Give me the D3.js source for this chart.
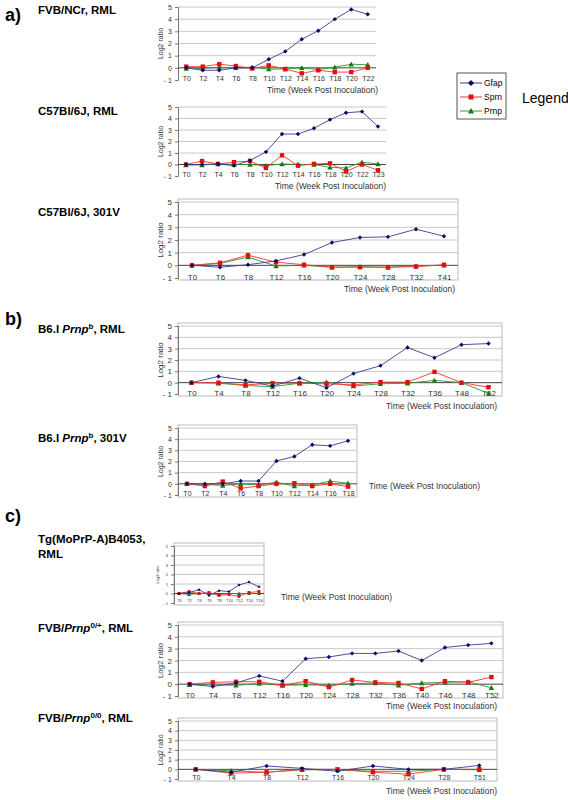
<!DOCTYPE html>
<html><head><meta charset="utf-8">
<script src="https://cdn.jsdelivr.net/npm/d3@7/dist/d3.min.js"></script>
<style>body{margin:0;background:#fff}</style></head>
<body><svg id="c" width="568" height="800"></svg>
<script>
const seriesNames=["Gfap","Sprn","Prnp"];
const ticks1=["T0","T2","T4","T6","T8","T10","T12","T14","T16","T18","T20","T22"];
const gfap1=[0,-0.2,-0.2,0,0,0.7,1.35,2.35,3.05,4.0,4.8,4.4];
const sprn1=[0.1,0.1,0.3,0.15,-0.05,0.2,-0.1,-0.45,-0.2,-0.35,-0.35,0];
const prnp1=[-0.05,-0.05,0.05,0,0.05,-0.1,-0.1,0,-0.15,0.05,0.3,0.25];
const ticks2=["T0","T2","T4","T6","T8","T10","T12","T14","T16","T18","T20","T22","T23"];
const gfap2=[0,0,0.05,-0.1,0.35,1.1,2.65,2.65,3.15,3.9,4.5,4.6,3.3];
const sprn2=[0,0.3,0.05,0.2,0.3,-0.3,0.8,-0.1,0.05,0.1,-0.6,0,-0.5];
const prnp2=[-0.05,-0.05,0.05,0,0,-0.1,0.05,0,0,-0.25,-0.3,0.2,0.05];
const ticks3=["T0","T6","T8","T12","T16","T20","T24","T28","T32","T41"];
const gfap3=[0,-0.15,0.05,0.35,0.85,1.8,2.2,2.25,2.85,2.3];
const sprn3=[0,0.2,0.8,0.25,0.05,-0.15,-0.15,-0.15,-0.1,0.05];
const prnp3=[0,0.15,0.65,-0.05,0,-0.15,-0.1,-0.15,-0.05,0];
const ticks4=["T0","T4","T8","T12","T16","T20","T24","T28","T32","T36","T48","T52"];
const gfap4=[0,0.55,0.2,-0.3,0.4,-0.45,0.8,1.5,3.1,2.2,3.35,3.45];
const sprn4=[0,0,-0.2,-0.05,-0.05,-0.1,-0.2,0.05,0.05,0.95,0,-0.4];
const prnp4=[0,-0.05,-0.25,-0.35,-0.05,0.05,-0.3,-0.1,-0.05,0.2,0,-0.95];
const ticks5=["T0","T2","T4","T6","T8","T10","T12","T14","T16","T18"];
const gfap5=[0,0,0,0.25,0.25,2.05,2.45,3.5,3.4,3.85];
const sprn5=[0,-0.2,0.2,-0.4,-0.2,0,0.05,-0.2,0,-0.25];
const prnp5=[0,-0.05,-0.15,0,-0.1,0.15,-0.2,-0.1,0.25,0.05];
const ticks6=["T0","T2","T4","T6","T8","T10","T12","T14","T16"];
const gfap6=[0,0.1,0.4,-0.2,0.3,0.2,0.9,1.2,0.7];
const sprn6=[0,0.2,0,0.1,-0.2,-0.1,-0.3,0.1,0.2];
const prnp6=[0,-0.1,0,0,-0.1,0,0,0,0];
const ticks7=["T0","T4","T8","T12","T16","T20","T24","T28","T32","T36","T40","T46","T48","T52"];
const gfap7=[0,-0.2,0.1,0.7,0.25,2.15,2.3,2.6,2.6,2.8,2.0,3.1,3.3,3.45];
const sprn7=[0,0.15,0.2,0.2,-0.1,0.25,-0.25,0.35,0.15,0.1,-0.4,0.25,0.15,0.6];
const prnp7=[-0.05,-0.05,-0.1,0.05,-0.1,-0.05,-0.1,0.05,0.1,-0.1,0.1,0.15,0.2,-0.3];
const ticks8=["T0","T4","T8","T12","T16","T20","T24","T28","T51"];
const gfap8=[0,-0.3,0.35,0.1,-0.2,0.35,0,0,0.4];
const sprn8=[0,-0.4,-0.3,0,0,-0.3,-0.5,0,0];
const prnp8=[0,-0.15,-0.3,-0.05,-0.05,-0.2,-0.2,0,-0.05];
const yTicks=[-1,0,1,2,3,4,5];

const svg=d3.select("#c");
const F="Arial, 'Liberation Sans', sans-serif";
const lineCol=["#3a3a9a","#ff3030","#2a9a2a"], markCol=["#0a0a6a","#e01010","#157a15"];

const panels=[
 {t:ticks1,s:[gfap1,sprn1,prnp1],x0:178,x1:376,y5:7,ym:80,xl:[378,93],box:false,fs:7},
 {t:ticks2,s:[gfap2,sprn2,prnp2],x0:178,x1:386,y5:107,ym:176,xl:[386,189],box:false,fs:7},
 {t:ticks3,s:[gfap3,sprn3,prnp3],x0:178,x1:458,y5:202,ym:278,xl:[455,292],box:true,fs:8},
 {t:ticks4,s:[gfap4,sprn4,prnp4],x0:178,x1:502,y5:326,ym:394,xl:[497,409],box:true,fs:8},
 {t:ticks5,s:[gfap5,sprn5,prnp5],x0:178,x1:357,y5:428,ym:495,xl:[480,489],box:true,fs:7},
 {t:ticks6,s:[gfap6,sprn6,prnp6],x0:174,x1:264,y5:546,ym:603,xl:[392,600],box:true,fs:4},
 {t:ticks7,s:[gfap7,sprn7,prnp7],x0:178,x1:503,y5:625,ym:696,xl:[497,709],box:true,fs:8},
 {t:ticks8,s:[gfap8,sprn8,prnp8],x0:178,x1:497,y5:721,ym:779,xl:[497,794],box:true,fs:7}
];

panels.forEach(p=>{
 const g=svg.append("g");
 const x=d3.scalePoint().domain(p.t).range([p.x0,p.x1]).padding(0.5);
 const y=d3.scaleLinear().domain([-1,5]).range([p.ym,p.y5]);
 if(p.box) g.append("rect").attr("x",p.x0).attr("y",p.y5-3).attr("width",p.x1-p.x0).attr("height",p.ym-p.y5+5)
   .attr("fill","none").attr("stroke","#bbb");
 yTicks.forEach(v=>{ if(v>0) g.append("line").attr("x1",p.x0).attr("x2",p.x1).attr("y1",y(v)).attr("y2",y(v)).attr("stroke","#c8c8c8"); });
 const ya=d3.axisLeft(y).tickValues(yTicks).tickSize(3).tickFormat(d=>d<0?"- "+(-d):d);
 const ax=g.append("g").attr("transform",`translate(${p.x0},0)`).call(ya);
 ax.selectAll("text").attr("font-size",p.fs).attr("font-family",F).attr("fill","#333");
 ax.select(".domain").attr("stroke","#777"); ax.selectAll(".tick line").attr("stroke","#777");
 g.append("line").attr("x1",p.x0).attr("x2",p.x1).attr("y1",y(0)).attr("y2",y(0)).attr("stroke","#444");
 const xa=d3.axisBottom(x).tickSize(0).tickPadding(0);
 const xg=g.append("g").attr("transform",`translate(0,${y(-1)-4})`).call(xa);
 xg.select(".domain").remove();
 xg.selectAll("text").attr("font-size",p.fs).attr("font-family",F).attr("fill","#333");
 g.append("text").attr("transform",`translate(${p.x0-15},${(p.y5+p.ym)/2}) rotate(-90)`).attr("text-anchor","middle")
   .attr("font-size",p.fs).attr("font-family",F).attr("fill","#333").text("Log2 ratio");
 const ms=p.fs>5?2.2:1.5;
 [2,1,0].forEach(k=>{
  const d=p.s[k];
  g.append("path").datum(d).attr("fill","none").attr("stroke",lineCol[k]).attr("stroke-width",0.9)
   .attr("d",d3.line().x((v,i)=>x(p.t[i])).y(v=>y(v)));
  const pts=g.selectAll(null).data(d).enter();
  if(k===0) pts.append("path").attr("d",`M0,${-ms}L${ms},0L0,${ms}L${-ms},0Z`).attr("fill",markCol[0])
     .attr("transform",(v,i)=>`translate(${x(p.t[i])},${y(v)})`);
  else if(k===1) pts.append("rect").attr("x",(v,i)=>x(p.t[i])-ms).attr("y",v=>y(v)-ms).attr("width",2*ms).attr("height",2*ms).attr("fill",markCol[1]);
  else pts.append("path").attr("d",`M0,${-ms-0.5}L${ms+0.5},${ms}L${-ms-0.5},${ms}Z`).attr("fill",markCol[2])
     .attr("transform",(v,i)=>`translate(${x(p.t[i])},${y(v)})`);
 });
 g.append("text").attr("x",p.xl[0]).attr("y",p.xl[1]).attr("text-anchor","end").attr("font-size",8.5)
  .attr("font-family",F).attr("fill","#333").text("Time (Week Post Inoculation)");
});

// titles
const T=(x,y,size,parts)=>{const t=svg.append("text").attr("x",x).attr("y",y).attr("font-family",F).attr("font-weight","bold").attr("font-size",size);
 parts.forEach(pt=>{const s=t.append("tspan").text(pt[0]); if(pt[1]==="i")s.attr("font-style","italic"); if(pt[1]==="sup")s.attr("font-size",size*0.7).attr("dy",-4); if(pt[1]==="back")s.attr("dy",4);});};
T(5,21,18,[["a)"]]); T(5,325,18,[["b)"]]); T(5,522,18,[["c)"]]);
T(38,14,11.5,[["FVB/NCr, RML"]]);
T(38,115,11.5,[["C57Bl/6J, RML"]]);
T(38,216,11.5,[["C57Bl/6J, 301V"]]);
T(38,333,11.5,[["B6.I "],["Prnp","i"],["b","sup"],[", RML","back"]]);
T(38,442,11.5,[["B6.I "],["Prnp","i"],["b","sup"],[", 301V","back"]]);
T(38,543,11.5,[["Tg(MoPrP-A)B4053,"]]);
T(38,558,11.5,[["RML"]]);
T(38,632,11.5,[["FVB/"],["Prnp","i"],["0/+","sup"],[", RML","back"]]);
T(38,722,11.5,[["FVB/"],["Prnp","i"],["0/0","sup"],[", RML","back"]]);

// legend
const lg=svg.append("g");
lg.append("rect").attr("x",457).attr("y",73).attr("width",49).attr("height",46).attr("fill","#fff").attr("stroke","#555");
seriesNames.forEach((n,k)=>{
 const yy=83+k*14;
 lg.append("line").attr("x1",460).attr("x2",482).attr("y1",yy).attr("y2",yy).attr("stroke",lineCol[k]);
 if(k===0) lg.append("path").attr("d","M471,80L474,83L471,86L468,83Z").attr("fill",markCol[0]);
 else if(k===1) lg.append("rect").attr("x",468.5).attr("y",yy-2.5).attr("width",5).attr("height",5).attr("fill",markCol[1]);
 else lg.append("path").attr("d",`M471,${yy-3}L474,${yy+2.5}L468,${yy+2.5}Z`).attr("fill",markCol[2]);
 lg.append("text").attr("x",484).attr("y",yy+3).attr("font-size",8.5).attr("font-family",F).text(n);
});
svg.append("text").attr("x",522).attr("y",103).attr("font-size",14).attr("font-family",F).text("Legend");
</script></body></html>
